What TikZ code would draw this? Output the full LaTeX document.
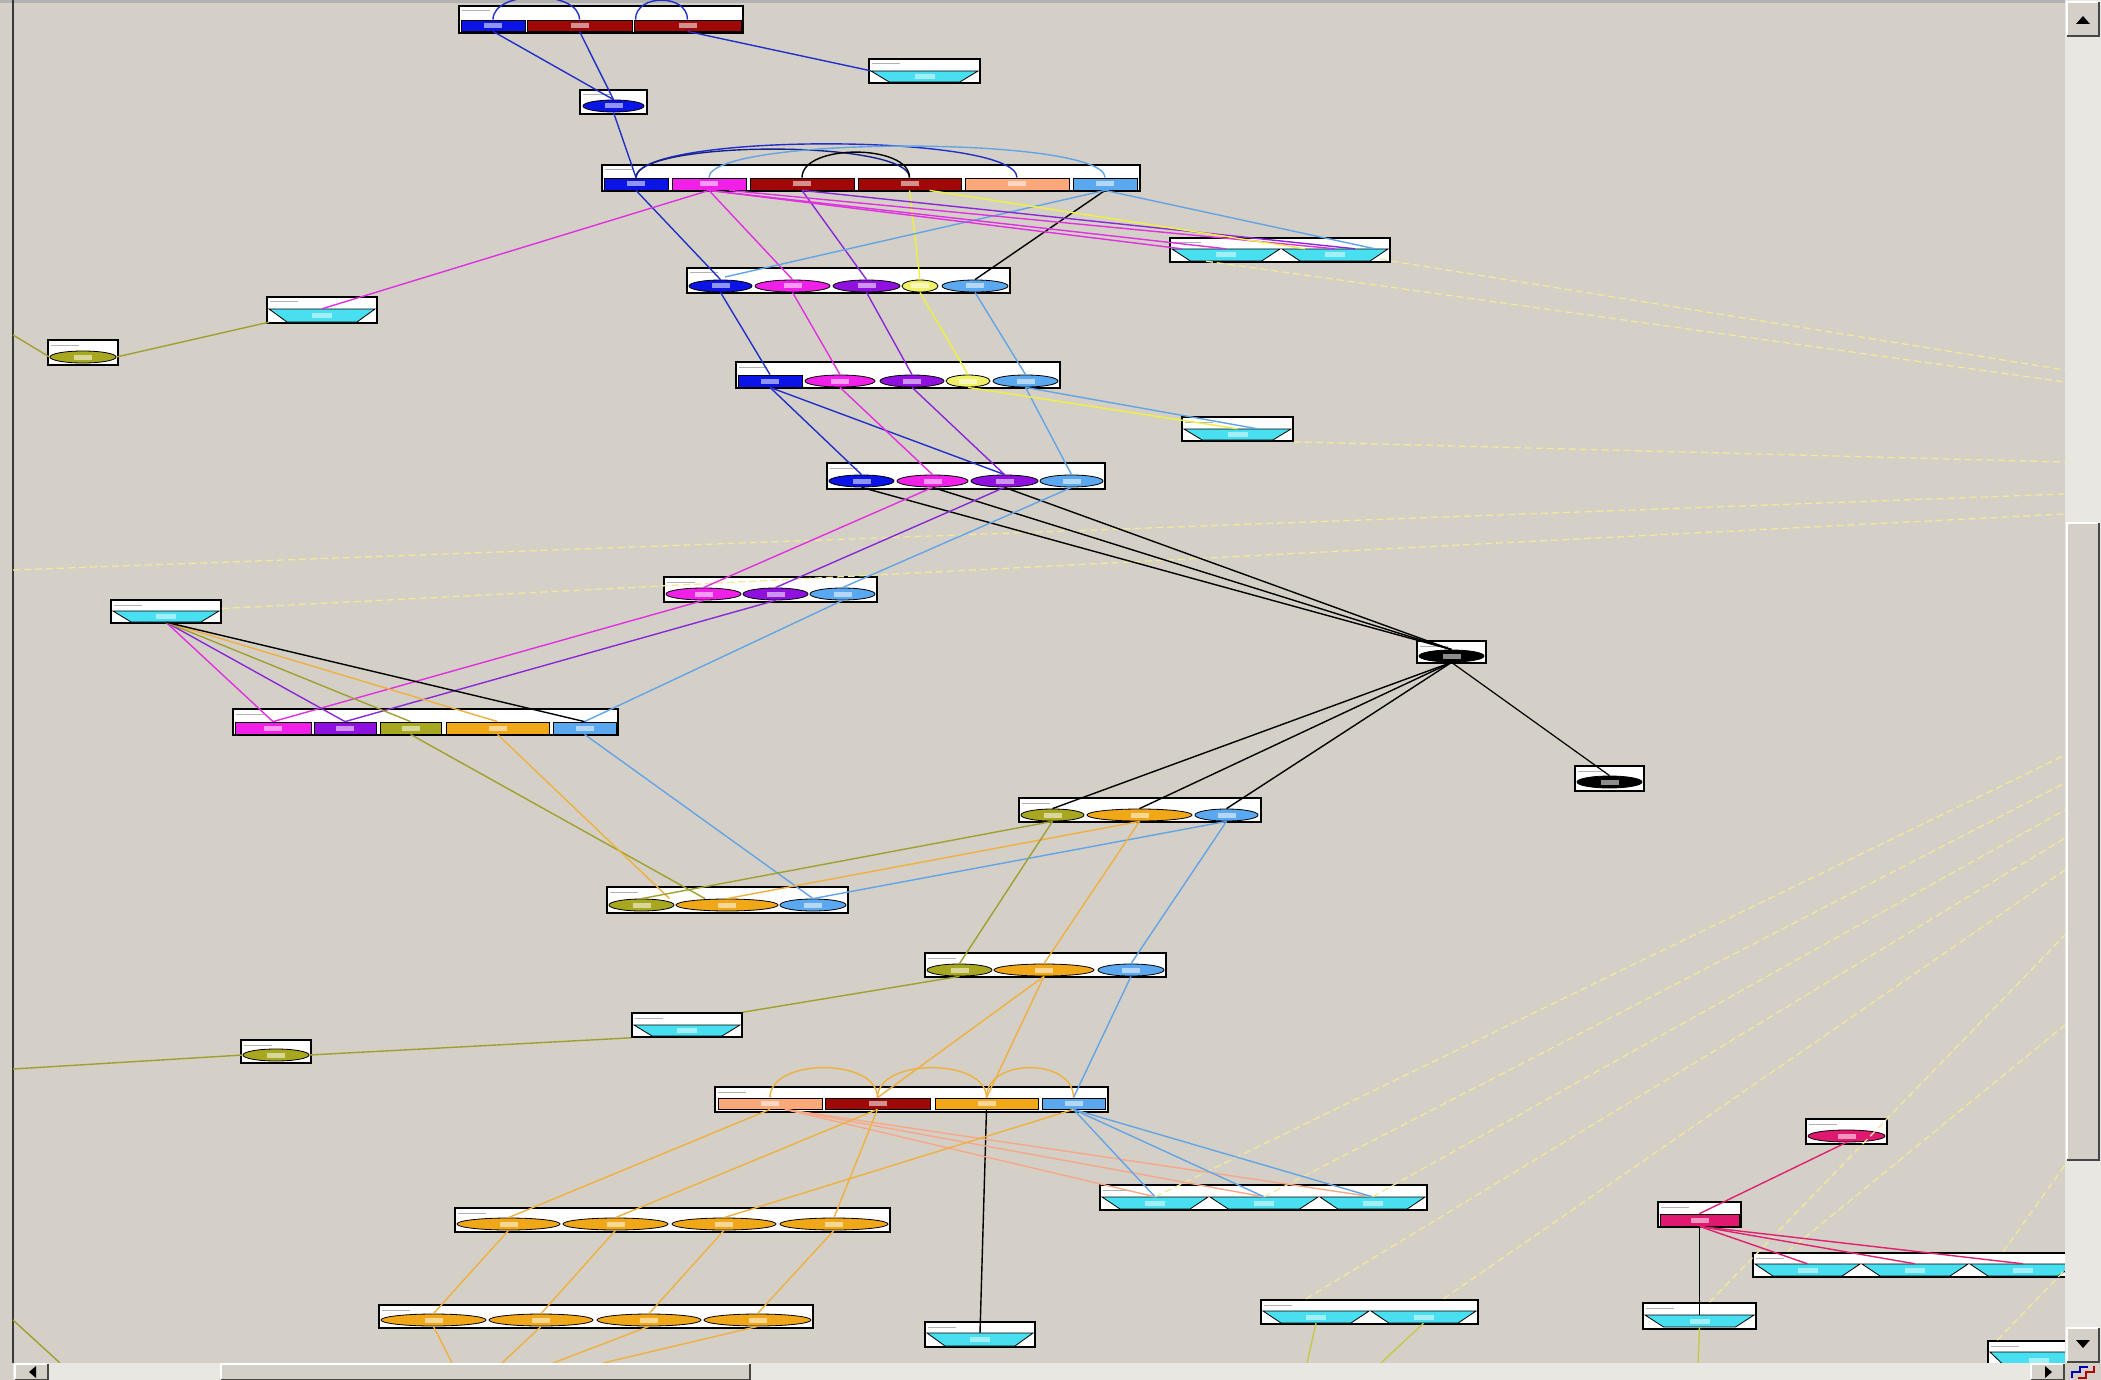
\documentclass[tikz,border=0pt]{standalone}
\usetikzlibrary{shapes.geometric,fit,calc}
\definecolor{bgc}{HTML}{D4D0C8}
\definecolor{trk}{HTML}{E9E7E2}
\definecolor{fblue}{HTML}{0A14E6}
\definecolor{dred}{HTML}{A00808}
\definecolor{fmag}{HTML}{F020E8}
\definecolor{fpur}{HTML}{9010E0}
\definecolor{fsal}{HTML}{FCA878}
\definecolor{flb}{HTML}{5AA8F0}
\definecolor{fyel}{HTML}{F0F068}
\definecolor{folive}{HTML}{A8A820}
\definecolor{forange}{HTML}{F0A818}
\definecolor{fcyan}{HTML}{48E0F0}
\definecolor{fpink}{HTML}{E01870}
\definecolor{cblue}{HTML}{2030C8}
\definecolor{cmag}{HTML}{E030E0}
\definecolor{cpur}{HTML}{8A28D8}
\definecolor{cyel}{HTML}{F0F040}
\definecolor{clb}{HTML}{62A4E6}
\definecolor{colive}{HTML}{A0A030}
\definecolor{corange}{HTML}{F0B040}
\definecolor{csal}{HTML}{F8A888}
\definecolor{cpink}{HTML}{E02070}
\definecolor{dyel}{HTML}{F2E89A}
\definecolor{cyol}{HTML}{C8C848}
\tikzset{
  tbl/.style={draw=black,line width=1.6pt,fill=white,inner sep=0pt,rectangle,
    path picture={\draw[gray!60,line width=1pt] ([xshift=3pt,yshift=-5pt]path picture bounding box.north west) -- ++(28pt,0pt);}},
  lbl/.style={path picture={\fill[white,opacity=0.55] ([xshift=-9pt,yshift=-2.5pt]path picture bounding box.center) rectangle ([xshift=9pt,yshift=2.5pt]path picture bounding box.center);}},
  rfld/.style={draw=black,line width=0.8pt,inner sep=0pt,rectangle,lbl},
  efld/.style={ellipse,draw=black,line width=0.8pt,inner sep=0pt,minimum height=12pt,lbl},
  cnx/.style={line width=1.4pt},
  dsh/.style={draw=dyel,line width=1.3pt,dash pattern=on 7pt off 4pt},
}
\newcommand\dgbox[5]{\node[tbl,fit={(#2,#3)(#4,#5)}] (#1) {};}
\newcommand\dgrf[6]{\node[rfld,fill=#6,fit={(#2,#4)(#3,#5)}] (#1) {};}
\newcommand\dgef[5]{\pgfmathsetmacro\dgw{#3-#2}\node[efld,fill=#5,minimum width=\dgw pt] (#1) at ({(#2+#3)/2},#4) {};}
\newcommand\dgtf[5]{\pgfmathsetmacro\dgd{0.17*(#3-#2)}%
  \path[draw=black,line width=0.8pt,fill=fcyan] (#2,#4) -- (#3,#4) -- ({#3-\dgd},#5) -- ({#2+\dgd},#5) -- cycle;%
  \node[inner sep=0pt,fit={(#2,#4)(#3,#5)}] (#1) {};%
  \fill[white,opacity=0.5] ($(#1.center)+(-10,-2.5)$) rectangle ($(#1.center)+(10,2.5)$);}
\newcommand\dgbtn[4]{\fill[bgc] (#1,#2) rectangle (#3,#4);
  \draw[white,line width=1.5pt] (#1,#4) -- (#1,#2) -- (#3,#2);
  \draw[gray!55!black,line width=1.5pt] (#1,#4) -- (#3,#4) -- (#3,#2);}
\begin{document}
\begin{tikzpicture}[x=1pt,y=-1pt]
\useasboundingbox (0,0) rectangle (2101,1380);
\fill[bgc] (0,0) rectangle (2101,1380);
\draw[gray!60,line width=3pt] (0,1.5) -- (2065,1.5);
\draw[gray!45!black,line width=2pt] (13,0) -- (13,1363);

% ---------- boxes and fields ----------
\dgbox{t1}{459}{6}{743}{33}
\dgrf{t1a}{461}{525}{20}{31}{fblue}
\dgrf{t1b}{527}{632}{20}{31}{dred}
\dgrf{t1c}{634}{741}{20}{31}{dred}

\dgbox{t2}{580}{90}{647}{114}
\dgef{t2a}{583}{644}{106}{fblue}

\dgbox{t3}{869}{59}{980}{83}
\dgtf{t3a}{871}{978}{71}{82}

\dgbox{r2}{602}{165}{1140}{191}
\dgrf{r2a}{604}{668}{178}{190}{fblue}
\dgrf{r2b}{672}{746}{178}{190}{fmag}
\dgrf{r2c}{750}{854}{178}{190}{dred}
\dgrf{r2d}{858}{961}{178}{190}{dred}
\dgrf{r2e}{965}{1069}{178}{190}{fsal}
\dgrf{r2f}{1073}{1137}{178}{190}{flb}

\dgbox{b5}{1170}{238}{1390}{262}
\dgtf{b5a}{1172}{1280}{249}{261}
\dgtf{b5b}{1282}{1388}{249}{261}

\dgbox{r3}{687}{268}{1010}{293}
\dgef{r3a}{689}{752}{286}{fblue}
\dgef{r3b}{755}{830}{286}{fmag}
\dgef{r3c}{833}{900}{286}{fpur}
\dgef{r3d}{902}{938}{286}{fyel}
\dgef{r3e}{942}{1008}{286}{flb}

\dgbox{r4}{736}{362}{1060}{388}
\dgrf{r4a}{738}{802}{375}{387}{fblue}
\dgef{r4b}{805}{875}{381}{fmag}
\dgef{r4c}{880}{944}{381}{fpur}
\dgef{r4d}{946}{990}{381}{fyel}
\dgef{r4e}{993}{1058}{381}{flb}

\dgbox{b8}{1182}{417}{1293}{441}
\dgtf{b8a}{1184}{1291}{429}{440}

\dgbox{r5}{827}{463}{1105}{489}
\dgef{r5a}{829}{894}{481}{fblue}
\dgef{r5b}{897}{968}{481}{fmag}
\dgef{r5c}{971}{1038}{481}{fpur}
\dgef{r5d}{1040}{1103}{481}{flb}

\dgbox{r6}{664}{577}{877}{602}
\dgef{r6a}{666}{741}{594}{fmag}
\dgef{r6b}{743}{808}{594}{fpur}
\dgef{r6c}{810}{875}{594}{flb}

\dgbox{b11}{111}{600}{221}{623}
\dgtf{b11a}{113}{219}{611}{622}

\dgbox{r7}{233}{709}{618}{735}
\dgrf{r7a}{235}{311}{722}{734}{fmag}
\dgrf{r7b}{314}{376}{722}{734}{fpur}
\dgrf{r7c}{380}{441}{722}{734}{folive}
\dgrf{r7d}{446}{549}{722}{734}{forange}
\dgrf{r7e}{553}{616}{722}{734}{flb}

\dgbox{n13}{1417}{641}{1486}{663}
\dgef{n13a}{1419}{1484}{656}{black}
\dgbox{n14}{1575}{766}{1644}{791}
\dgef{n14a}{1577}{1642}{782}{black}

\dgbox{r8}{1019}{798}{1261}{822}
\dgef{r8a}{1021}{1084}{815}{folive}
\dgef{r8b}{1087}{1192}{815}{forange}
\dgef{r8c}{1195}{1258}{815}{flb}

\dgbox{r9}{607}{887}{848}{913}
\dgef{r9a}{609}{674}{905}{folive}
\dgef{r9b}{676}{778}{905}{forange}
\dgef{r9c}{780}{846}{905}{flb}

\dgbox{r10}{925}{953}{1166}{977}
\dgef{r10a}{927}{992}{970}{folive}
\dgef{r10b}{994}{1094}{970}{forange}
\dgef{r10c}{1098}{1164}{970}{flb}

\dgbox{b18}{48}{340}{118}{365}
\dgef{b18a}{50}{116}{357}{folive}
\dgbox{b19}{267}{297}{377}{323}
\dgtf{b19a}{269}{375}{309}{322}
\dgbox{b20}{241}{1040}{311}{1063}
\dgef{b20a}{243}{309}{1055}{folive}
\dgbox{b21}{632}{1013}{742}{1037}
\dgtf{b21a}{634}{740}{1025}{1036}

\dgbox{r11}{715}{1087}{1108}{1112}
\dgrf{r11a}{718}{822}{1098}{1109}{fsal}
\dgrf{r11b}{825}{930}{1098}{1109}{dred}
\dgrf{r11c}{935}{1038}{1098}{1109}{forange}
\dgrf{r11d}{1042}{1105}{1098}{1109}{flb}

\dgbox{r12}{455}{1208}{890}{1232}
\dgef{r12a}{457}{560}{1224}{forange}
\dgef{r12b}{563}{668}{1224}{forange}
\dgef{r12c}{672}{776}{1224}{forange}
\dgef{r12d}{780}{888}{1224}{forange}

\dgbox{r13}{379}{1305}{813}{1328}
\dgef{r13a}{381}{486}{1320}{forange}
\dgef{r13b}{489}{593}{1320}{forange}
\dgef{r13c}{597}{701}{1320}{forange}
\dgef{r13d}{704}{811}{1320}{forange}

\dgbox{b25}{925}{1322}{1035}{1347}
\dgtf{b25a}{927}{1033}{1333}{1346}

\dgbox{b26}{1100}{1185}{1427}{1210}
\dgtf{b26a}{1102}{1208}{1197}{1209}
\dgtf{b26b}{1210}{1318}{1197}{1209}
\dgtf{b26c}{1320}{1425}{1197}{1209}

\dgbox{b27}{1261}{1300}{1478}{1324}
\dgtf{b27a}{1263}{1369}{1311}{1323}
\dgtf{b27b}{1371}{1476}{1311}{1323}

\dgbox{b28}{1806}{1119}{1887}{1144}
\dgef{b28a}{1808}{1885}{1136}{fpink}
\dgbox{b29}{1658}{1202}{1741}{1227}
\dgrf{b29a}{1660}{1739}{1214}{1226}{fpink}
\dgbox{b30}{1753}{1253}{2080}{1277}
\dgtf{b30a}{1755}{1860}{1264}{1276}
\dgtf{b30b}{1862}{1968}{1264}{1276}
\dgtf{b30c}{1970}{2076}{1264}{1276}
\dgbox{b31}{1643}{1303}{1756}{1329}
\dgtf{b31a}{1645}{1754}{1315}{1327}
\dgbox{b32}{1988}{1341}{2090}{1372}
\dgtf{b32a}{1990}{2088}{1352}{1368}

% ---------- edge coordinates ----------
\coordinate (eL1) at (13,335);
\coordinate (eL2) at (13,570);
\coordinate (eL3) at (13,1069);
\coordinate (eL4) at (13,1320);
\coordinate (eR1) at (2065,382);
\coordinate (eR2) at (2065,370);
\coordinate (eR3) at (2065,462);
\coordinate (eR4) at (2065,494);
\coordinate (eR5) at (2065,514);
\coordinate (eR6) at (2065,755);
\coordinate (eR7) at (2065,783);
\coordinate (eR8) at (2065,810);
\coordinate (eR9) at (2065,838);
\coordinate (eR10) at (2065,870);
\coordinate (eR11) at (2065,935);
\coordinate (eR12) at (2065,1025);
\coordinate (eR13) at (2065,1165);
\coordinate (eR14) at (2065,1270);
\coordinate (r3h) at (725,277);

% ---------- dashed yellow ----------
\draw[dsh] ($(b5a.south)+(-20,0)$) -- (eR1);
\draw[dsh] ($(b5b.south east)+(-8,-2)$) -- (eR2);
\draw[dsh] (b8.south east) -- (eR3);
\draw[dsh] (eL2) -- (eR4);
\draw[dsh] ($(b11.east)+(0,-3)$) -- (eR5);
\draw[dsh] (b26a.north) -- (eR6);
\draw[dsh] (b26b.north) -- (eR7);
\draw[dsh] (b26c.north) -- (eR8);
\draw[dsh] ($(b27a.north)+(-10,-12)$) -- (eR9);
\draw[dsh] ($(b27b.north)+(20,-12)$) -- (eR10);
\draw[dsh] ($(b31.north)+(10,0)$) -- (eR11);
\draw[dsh] ($(b30a.north)+(-20,-12)$) -- (eR12);
\draw[dsh] ($(b30c.north)+(-20,-12)$) -- (eR13);
\draw[dsh] ($(b32.north west)+(10,0)$) -- (eR14);

% ---------- connectors ----------
\draw[cnx,cblue] (t1a.north) .. controls +(0,-30) and +(0,-30) .. (t1b.north);
\draw[cnx,cblue] ($(t1b.north)+(56,0)$) .. controls +(0,-26) and +(0,-26) .. (t1c.north);
\draw[cnx,cblue] (t1a.south) -- (t2a.north);
\draw[cnx,cblue] (t1b.south) -- (t2a.north);
\draw[cnx,cblue] (t1c.south) -- (t3a.north west);
\draw[cnx,cblue] (t2a.south) -- (r2a.north);

\draw[cnx,cblue] (r2a.north) .. controls +(0,-45) and +(0,-45) .. (r2e.north);
\draw[cnx,cblue!70!black] (r2a.north) .. controls +(0,-38) and +(0,-38) .. (r2d.north);
\draw[cnx,clb] (r2b.north) .. controls +(0,-42) and +(0,-42) .. (r2f.north);
\draw[cnx,black] (r2c.north) .. controls +(0,-34) and +(0,-34) .. (r2d.north);

\draw[cnx,cblue] (r2a.south) -- (r3a.north);
\draw[cnx,cmag] (r2b.south) -- (r3b.north);
\draw[cnx,cpur] (r2c.south) -- (r3c.north);
\draw[cnx,cyel] (r2d.south) -- (r3d.north);
\draw[cnx,black] (r2f.south) -- (r3e.north);
\draw[cnx,clb] (r2f.south) -- (r3h);
\draw[cnx,cmag] (r2b.south) -- (b19a.north);
\draw[cnx,cmag] (r2b.south) -- ($(b5a.north west)+(10,0)$);
\draw[cnx,cmag] (r2b.south) -- (b5a.north);
\draw[cnx,cmag] ($(r2b.south)+(20,0)$) -- (b5b.north);
\draw[cnx,cpur] (r2c.south) -- ($(b5b.north)+(20,0)$);
\draw[cnx,cyel] ($(r2d.south)+(20,0)$) -- ($(b5b.north)+(-30,0)$);
\draw[cnx,clb] (r2f.south) -- ($(b5b.north)+(40,0)$);

\draw[cnx,cblue] (r3a.south) -- (r4a.north);
\draw[cnx,cmag] (r3b.south) -- (r4b.north);
\draw[cnx,cpur] (r3c.south) -- (r4c.north);
\draw[cnx,cyel] (r3d.south) -- (r4d.north);
\draw[cnx,clb] (r3e.south) -- (r4e.north);

\draw[cnx,cblue] (r4a.south) -- (r5a.north);
\draw[cnx,cblue] (r4a.south) -- (r5c.north);
\draw[cnx,cmag] (r4b.south) -- (r5b.north);
\draw[cnx,cpur] (r4c.south) -- (r5c.north);
\draw[cnx,clb] (r4e.south) -- (r5d.north);
\draw[cnx,cyel] (r4d.south) -- (b8a.north);
\draw[cnx,clb] (r4e.south) -- ($(b8a.north)+(20,0)$);

\draw[cnx,black] (r5a.south) -- (n13a.north);
\draw[cnx,black] (r5b.south) -- (n13a.north);
\draw[cnx,black] (r5c.south) -- (n13a.north);
\draw[cnx,cmag] (r5b.south) -- (r6a.north);
\draw[cnx,cpur] (r5c.south) -- (r6b.north);
\draw[cnx,clb] (r5d.south) -- (r6c.north);

\draw[line width=1.2pt,black] (n13a.south) -- (n14a.north);
\draw[cnx,black] (n13a.south) -- (r8a.north);
\draw[cnx,black] (n13a.south) -- (r8b.north);
\draw[cnx,black] (n13a.south) -- (r8c.north);

\draw[cnx,cmag] (r6a.south) -- (r7a.north);
\draw[cnx,cpur] (r6b.south) -- (r7b.north);
\draw[cnx,clb] (r6c.south) -- (r7e.north);

\draw[cnx,cmag] (b11a.south) -- (r7a.north);
\draw[cnx,cpur] (b11a.south) -- (r7b.north);
\draw[cnx,colive] (b11a.south) -- (r7c.north);
\draw[cnx,corange] (b11a.south) -- (r7d.north);
\draw[cnx,black] (b11a.south) -- (r7e.north);

\draw[cnx,colive] (r7c.south) -- ($(r9b.north)+(-22,0)$);
\draw[cnx,corange] (r7d.south) -- ($(r9a.north)+(28,0)$);
\draw[cnx,clb] (r7e.south) -- (r9c.north);

\draw[cnx,colive] (r8a.south) -- (r9a.north);
\draw[cnx,corange] (r8b.south) -- (r9b.north);
\draw[cnx,clb] (r8c.south) -- (r9c.north);
\draw[cnx,colive] (r8a.south) -- (r10a.north);
\draw[cnx,corange] (r8b.south) -- (r10b.north);
\draw[cnx,clb] (r8c.south) -- (r10c.north);

\draw[cnx,colive] (eL1) -- (b18a.west);
\draw[cnx,colive] (b18a.east) -- (b19a.south west);
\draw[cnx,colive] (eL3) -- (b20a.west);
\draw[cnx,colive] (b20a.east) -- (b21.south west);
\draw[cnx,colive] (r10a.south) -- (b21.north east);
\draw[cnx,colive] (eL4) -- (60,1363);

\draw[cnx,corange] (r10b.south) -- (r11b.north);
\draw[cnx,corange] (r10b.south) -- (r11c.north);
\draw[cnx,clb] (r10c.south) -- (r11d.north);

\draw[cnx,corange] (r11a.north) .. controls +(0,-40) and +(0,-40) .. (r11b.north);
\draw[cnx,corange] (r11b.north) .. controls +(0,-40) and +(0,-40) .. (r11c.north);
\draw[cnx,corange] (r11c.north) .. controls +(0,-40) and +(0,-40) .. (r11d.north);

\draw[cnx,black] (r11c.south) -- (b25a.north);
\draw[cnx,csal] ($(r11a.south)+(15,0)$) -- (b26a.north);
\draw[cnx,csal] ($(r11a.south)+(15,0)$) -- (b26b.north);
\draw[cnx,csal] ($(r11a.south)+(15,0)$) -- (b26c.north);
\draw[cnx,clb] (r11d.south) -- (b26a.north);
\draw[cnx,clb] (r11d.south) -- (b26b.north);
\draw[cnx,clb] (r11d.south) -- (b26c.north);

\draw[cnx,corange] (r11a.south) -- (r12a.north);
\draw[cnx,corange] (r11b.south) -- (r12b.north);
\draw[cnx,corange] (r11d.south) -- (r12c.north);
\draw[cnx,corange] (r11b.south) -- (r12d.north);
\draw[cnx,corange] (r12a.south) -- (r13a.north);
\draw[cnx,corange] (r12b.south) -- (r13b.north);
\draw[cnx,corange] (r12c.south) -- (r13c.north);
\draw[cnx,corange] (r12d.south) -- (r13d.north);
\draw[cnx,corange] (r13a.south) -- (452,1363);
\draw[cnx,corange] (r13b.south) -- (502,1363);
\draw[cnx,corange] (r13c.south) -- (553,1363);
\draw[cnx,corange] (r13d.south) -- (603,1363);

\draw[cnx,cyol] (b27a.south) -- (1307,1363);
\draw[cnx,cyol] (b27b.south) -- (1381,1363);
\draw[cnx,cyol] (b31a.south) -- (1698,1363);

\draw[cnx,cpink] (b28a.south) -- (b29a.north);
\draw[cnx,cpink] (b29a.south) -- (b30a.north);
\draw[cnx,cpink] (b29a.south) -- (b30b.north);
\draw[cnx,cpink] (b29a.south) -- (b30c.north);
\draw[cnx,black] (b29a.south) -- (b31a.north);

% ---------- window scrollbars ----------
\fill[trk] (2065,0) rectangle (2101,1363);
\dgbtn{2067}{2}{2099}{36}
\fill[black] (2076,24) -- (2090,24) -- (2083,16) -- cycle;
\dgbtn{2067}{523}{2099}{1160}
\dgbtn{2067}{1328}{2099}{1362}
\fill[black] (2076,1340) -- (2090,1340) -- (2083,1348) -- cycle;
\fill[trk] (13,1363) rectangle (2065,1380);
\dgbtn{15}{1364}{48}{1380}
\fill[black] (36,1366) -- (36,1378) -- (29,1372) -- cycle;
\dgbtn{221}{1364}{750}{1380}
\dgbtn{2031}{1364}{2064}{1380}
\fill[black] (2045,1366) -- (2045,1378) -- (2052,1372) -- cycle;
\fill[bgc] (2065,1363) rectangle (2101,1380);
\draw[blue!70!black,line width=1.5pt] (2072,1378) -- (2072,1372) -- (2080,1372) -- (2080,1367) -- (2088,1367);
\draw[red!70!black,line width=1.5pt] (2078,1378) -- (2086,1378) -- (2086,1372) -- (2094,1372) -- (2094,1366);
\end{tikzpicture}
\end{document}
